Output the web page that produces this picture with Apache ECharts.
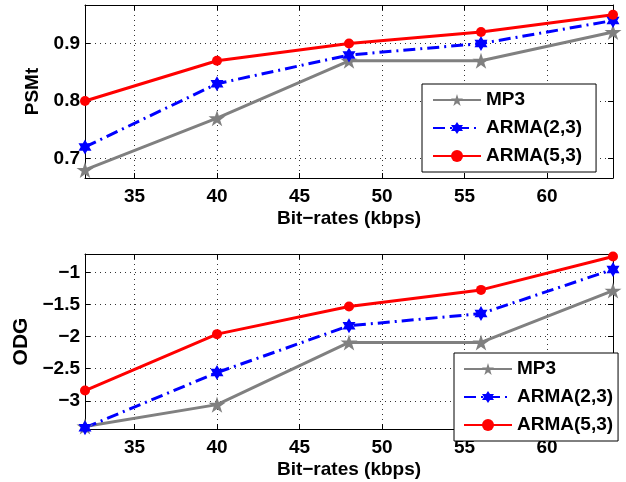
<!DOCTYPE html>
<html><head><meta charset="utf-8">
<script src="https://cdn.jsdelivr.net/npm/echarts@6/dist/echarts.min.js"></script>
<style>html,body{margin:0;padding:0;background:#fff}#c{width:626px;height:482px}</style>
</head><body><div id="c"></div>
<script>
const bitRates = [32, 40, 48, 56, 64];
const seriesNames = ['MP3', 'ARMA(2,3)', 'ARMA(5,3)'];
const psmtMP3 = [0.68, 0.77, 0.87, 0.87, 0.92];
const psmtARMA23 = [0.72, 0.83, 0.88, 0.90, 0.94];
const psmtARMA53 = [0.80, 0.87, 0.90, 0.92, 0.95];
const odgMP3 = [-3.40, -3.06, -2.09, -2.09, -1.28];
const odgARMA23 = [-3.42, -2.56, -1.83, -1.64, -0.95];
const odgARMA53 = [-2.84, -1.96, -1.53, -1.27, -0.75];
const xTicks = [35, 40, 45, 50, 55, 60];
const psmtTicks = [0.7, 0.8, 0.9];
const odgTicks = [-3, -2.5, -2, -1.5, -1];
const xTitle = 'Bit\u2212rates (kbps)';
const psmtTitle = 'PSMt';
const odgTitle = 'ODG';

const FONT = 'Liberation Sans, Arial, Helvetica, sans-serif';
const STAR = 'path://M50 0 L61.17 34.63 L97.55 34.55 L68.07 55.87 L79.39 90.45 L50 69 L20.61 90.45 L31.93 55.87 L2.45 34.55 L38.83 34.63 Z';
const HEX = 'path://M50 0 L64.43 25 L93.3 25 L78.87 50 L93.3 75 L64.43 75 L50 100 L35.57 75 L6.7 75 L21.13 50 L6.7 25 L35.57 25 Z';

const styles = [
  {color: '#808080', symbol: STAR, size: 17, line: {width: 3, type: 'solid'}},
  {color: '#0000ff', symbol: HEX, size: 15, line: {width: 3, type: [12, 5, 2, 5]}},
  {color: '#ff0000', symbol: 'circle', size: 10, line: {width: 3, type: 'solid'}}
];

function pairs(ys) { return bitRates.map((x, i) => [x, ys[i]]); }
function mkSeries(name, ys, st, gi) {
  return {
    type: 'line', name: name, xAxisIndex: gi * 2, yAxisIndex: gi * 2,
    data: pairs(ys), symbol: st.symbol, symbolSize: st.size, symbolKeepAspect: true,
    showAllSymbol: true,
    itemStyle: {color: st.color},
    lineStyle: {color: st.color, width: st.line.width, type: st.line.type},
    emphasis: {disabled: true}, animation: false, z: 3
  };
}
const tickLabel = {fontFamily: FONT, fontWeight: 'bold', fontSize: 19, color: '#000'};
const minus = v => String(v).replace('-', '\u2212');

function xAxes(gi) {
  return [
    {type: 'value', gridIndex: gi, position: 'bottom', min: 32, max: 64,
     name: xTitle, nameLocation: 'middle', nameGap: 31,
     nameTextStyle: {fontFamily: FONT, fontWeight: 'bold', fontSize: 19, color: '#000'},
     axisLine: {show: true, lineStyle: {color: '#000', width: 1}},
     axisTick: {show: true, inside: true, length: 5, customValues: xTicks, lineStyle: {color: '#000'}},
     axisLabel: Object.assign({customValues: xTicks, margin: 9}, tickLabel),
     splitLine: {show: true, lineStyle: {color: '#333', width: 1, type: [1, 4]}}},
    {type: 'value', gridIndex: gi, position: 'top', min: 32, max: 64,
     axisLine: {show: true, lineStyle: {color: '#000', width: 1}},
     axisTick: {show: true, inside: true, length: 5, customValues: xTicks, lineStyle: {color: '#000'}},
     axisLabel: {show: false}, splitLine: {show: false}}
  ];
}
function yAxes(gi, min, max, ticks, title, gap, fs, fmt) {
  return [
    {type: 'value', gridIndex: gi, position: 'left', min: min, max: max,
     name: title, nameLocation: 'middle', nameGap: gap, nameRotate: 90,
     nameTextStyle: {fontFamily: FONT, fontWeight: 'bold', fontSize: fs, color: '#000'},
     axisLine: {show: true, lineStyle: {color: '#000', width: 1}},
     axisTick: {show: true, inside: true, length: 5, customValues: ticks, lineStyle: {color: '#000'}},
     axisLabel: Object.assign({customValues: ticks, margin: 5, formatter: fmt}, tickLabel),
     splitLine: {show: true, lineStyle: {color: '#333', width: 1, type: [1, 4]}}},
    {type: 'value', gridIndex: gi, position: 'right', min: min, max: max,
     axisLine: {show: true, lineStyle: {color: '#000', width: 1}},
     axisTick: {show: true, inside: true, length: 5, customValues: ticks, lineStyle: {color: '#000'}},
     axisLabel: {show: false}, splitLine: {show: false}}
  ];
}
function legend(left, top, pad) {
  return {
    show: true, orient: 'vertical', left: left, top: top, data: seriesNames,
    itemWidth: 48, itemHeight: 15, itemGap: 8, padding: pad,
    backgroundColor: '#fff', borderColor: '#000', borderWidth: 1, borderRadius: 0,
    textStyle: {fontFamily: FONT, fontWeight: 'bold', fontSize: 19, color: '#000', lineHeight: 20},
    selectedMode: false
  };
}

const option = {
  backgroundColor: '#fff',
  animation: false,
  grid: [
    {left: 85, top: 5, width: 528, height: 173, show: false},
    {left: 85, top: 254, width: 528, height: 175, show: false}
  ],
  xAxis: xAxes(0).concat(xAxes(1)),
  yAxis: yAxes(0, 0.666, 0.967, psmtTicks, psmtTitle, 38, 19, v => v.toFixed(1))
    .concat(yAxes(1, -3.44, -0.71, odgTicks, odgTitle, 52, 21, minus)),
  legend: [legend(422, 84, [6, 14, 6, 10]), legend(454, 353, [6, 5, 6, 9])],
  series: [
    mkSeries(seriesNames[0], psmtMP3, styles[0], 0),
    mkSeries(seriesNames[1], psmtARMA23, styles[1], 0),
    mkSeries(seriesNames[2], psmtARMA53, styles[2], 0),
    mkSeries(seriesNames[0], odgMP3, styles[0], 1),
    mkSeries(seriesNames[1], odgARMA23, styles[1], 1),
    mkSeries(seriesNames[2], odgARMA53, styles[2], 1)
  ]
};
const chart = echarts.init(document.getElementById('c'), null, {renderer: 'canvas'});
chart.setOption(option);
</script>
</body></html>
